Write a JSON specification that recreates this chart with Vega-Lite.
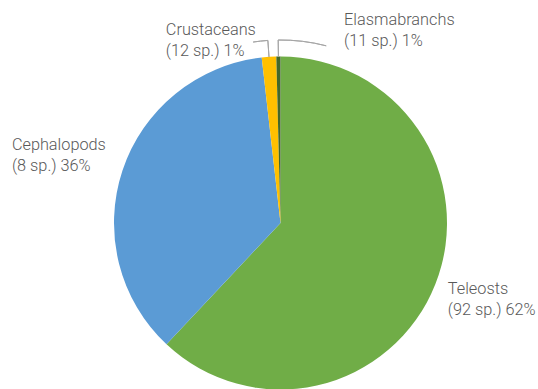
{
  "$schema": "https://vega.github.io/schema/vega-lite/v6.json",
  "width": 515,
  "height": 334,
  "autosize": {"type": "none"},
  "padding": {"left": 23, "top": 56, "right": 0, "bottom": 0},
  "background": "white",
  "view": {"stroke": null},
  "data": {
    "values": [
      {"group": "Teleosts", "species": 92, "share": 62.0, "order": 1, "label": "Teleosts\n(92 sp.) 62%"},
      {"group": "Cephalopods", "species": 8, "share": 36.2, "order": 2, "label": "Cephalopods\n(8 sp.) 36%"},
      {"group": "Crustaceans", "species": 12, "share": 1.4, "order": 3, "label": "Crustaceans\n(12 sp.) 1%"},
      {"group": "Elasmabranchs", "species": 11, "share": 0.4, "order": 4, "label": "Elasmabranchs\n(11 sp.) 1%"}
    ]
  },
  "transform": [
    {"stack": "share", "groupby": [], "sort": [{"field": "order", "order": "ascending"}], "as": ["v0", "v1"]},
    {"calculate": "(datum.v0 + datum.v1) / 2", "as": "mid"}
  ],
  "layer": [
    {
      "mark": {"type": "arc", "radius": 166.5},
      "encoding": {
        "theta": {"field": "v0", "type": "quantitative", "scale": {"domain": [0, 100]}},
        "theta2": {"field": "v1"},
        "color": {
          "field": "group",
          "type": "nominal",
          "scale": {"domain": ["Teleosts", "Cephalopods", "Crustaceans", "Elasmabranchs"], "range": ["#70AD47", "#5B9BD5", "#FFC000", "#43682B"]},
          "legend": null
        }
      }
    },
    {
      "transform": [{"filter": "datum.group === 'Crustaceans' || datum.group === 'Elasmabranchs'"}],
      "mark": {"type": "arc", "radius": 183, "radius2": 166.5, "fill": "transparent", "stroke": "#A6A6A6", "strokeWidth": 1},
      "encoding": {
        "theta": {"field": "mid", "type": "quantitative"},
        "theta2": {"field": "mid"}
      }
    },
    {
      "transform": [{"filter": "datum.group === 'Crustaceans'"}],
      "mark": {"type": "arc", "radius": 183, "radius2": 183, "theta2Offset": -0.081, "fill": "transparent", "stroke": "#A6A6A6", "strokeWidth": 1},
      "encoding": {
        "theta": {"field": "mid", "type": "quantitative"},
        "theta2": {"field": "mid"}
      }
    },
    {
      "transform": [{"filter": "datum.group === 'Elasmabranchs'"}],
      "mark": {"type": "arc", "radius": 183, "radius2": 183, "theta2Offset": 0.265, "fill": "transparent", "stroke": "#A6A6A6", "strokeWidth": 1},
      "encoding": {
        "theta": {"field": "mid", "type": "quantitative"},
        "theta2": {"field": "mid"}
      }
    },
    {
      "transform": [{"filter": "datum.group === 'Teleosts'"}],
      "mark": {"type": "text", "radius": 180, "dy": 0, "align": "left", "baseline": "middle", "font": "Roboto", "fontSize": 16.3, "fontWeight": 300, "lineHeight": 20.7, "lineBreak": "\n", "color": "#595959"},
      "encoding": {"theta": {"field": "mid", "type": "quantitative", "stack": null}, "text": {"field": "label"}}
    },
    {
      "transform": [{"filter": "datum.group === 'Cephalopods'"}],
      "mark": {"type": "text", "radius": 283, "dy": 11, "align": "left", "baseline": "middle", "font": "Roboto", "fontSize": 16.3, "fontWeight": 300, "lineHeight": 20.7, "lineBreak": "\n", "color": "#595959"},
      "encoding": {"theta": {"field": "mid", "type": "quantitative", "stack": null}, "text": {"field": "label"}}
    },
    {
      "transform": [{"filter": "datum.group === 'Crustaceans'"}],
      "mark": {"type": "text", "radius": 183, "dx": -102, "dy": -10, "align": "left", "baseline": "middle", "font": "Roboto", "fontSize": 16.3, "fontWeight": 300, "lineHeight": 20.7, "lineBreak": "\n", "color": "#595959"},
      "encoding": {"theta": {"field": "mid", "type": "quantitative", "stack": null}, "text": {"field": "label"}}
    },
    {
      "transform": [{"filter": "datum.group === 'Elasmabranchs'"}],
      "mark": {"type": "text", "radius": 191.5, "dx": 66, "dy": -11.5, "align": "left", "baseline": "middle", "font": "Roboto", "fontSize": 16.3, "fontWeight": 300, "lineHeight": 20.7, "lineBreak": "\n", "color": "#595959"},
      "encoding": {"theta": {"field": "mid", "type": "quantitative", "stack": null}, "text": {"field": "label"}}
    }
  ]
}
